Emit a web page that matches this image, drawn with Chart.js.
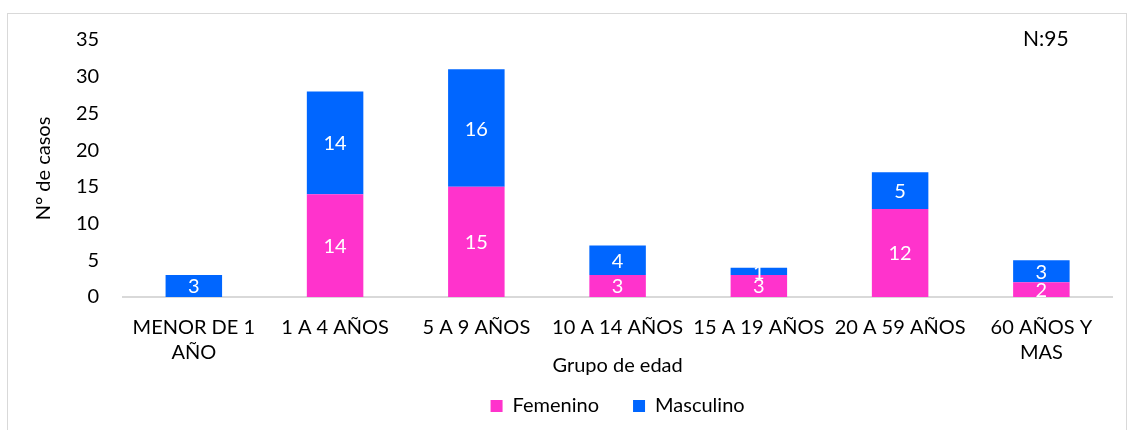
<!DOCTYPE html>
<html>
<head>
<meta charset="utf-8">
<script src="https://cdn.jsdelivr.net/npm/chart.js@4/dist/chart.umd.min.js"></script>
<style>
  html, body { margin: 0; padding: 0; background: #fff; }
  #wrap { position: relative; width: 1130px; height: 430px; }
  #frame { position: absolute; left: 7px; top: 13px; width: 1120px; height: 420px; border: 1px solid #d9d9d9; box-sizing: border-box; }
  canvas { position: absolute; left: 0; top: 0; }
</style>
</head>
<body>
<div id="wrap">
  <div id="frame"></div>
  <canvas id="chart" width="1130" height="430"></canvas>
</div>
<script>
const categories = [['MENOR DE 1', 'AÑO'], '1 A 4 AÑOS', '5 A 9 AÑOS', '10 A 14 AÑOS', '15 A 19 AÑOS', '20 A 59 AÑOS', ['60 AÑOS Y', 'MAS']];
const femenino = [0, 14, 15, 3, 3, 12, 2];
const masculino = [3, 14, 16, 4, 1, 5, 3];
const totalLabel = 'N:95';

const FONT = 'Lato, "Open Sans", sans-serif';

// value labels inside each bar segment
const barLabels = {
  id: 'barLabels',
  afterDatasetsDraw(chart) {
    const ctx = chart.ctx;
    ctx.save();
    ctx.fillStyle = '#ffffff';
    ctx.font = '20px ' + FONT;
    ctx.textAlign = 'center';
    ctx.textBaseline = 'middle';
    chart.data.datasets.forEach((ds, i) => {
      chart.getDatasetMeta(i).data.forEach((bar, j) => {
        const v = ds.data[j];
        if (!v) return;
        ctx.fillText(String(v), bar.x, (bar.y + bar.base) / 2 + 1);
      });
    });
    ctx.restore();
  }
};

const cornerNote = {
  id: 'cornerNote',
  afterDraw(chart) {
    const ctx = chart.ctx;
    ctx.save();
    ctx.fillStyle = '#000';
    ctx.font = '21px ' + FONT;
    ctx.textAlign = 'left';
    ctx.textBaseline = 'middle';
    ctx.fillText(totalLabel, 1023, 39);
    ctx.restore();
  }
};

new Chart(document.getElementById('chart'), {
  type: 'bar',
  data: {
    labels: categories,
    datasets: [
      { label: 'Femenino', data: femenino, backgroundColor: '#ff33cc', categoryPercentage: 1, barPercentage: 0.4 },
      { label: 'Masculino', data: masculino, backgroundColor: '#0066ff', categoryPercentage: 1, barPercentage: 0.4 }
    ]
  },
  options: {
    responsive: false,
    animation: false,
    layout: { padding: { top: 40, left: 28, right: 18, bottom: 4 } },
    plugins: {
      legend: {
        position: 'bottom',
        fullSize: false,
        labels: { boxWidth: 12, boxHeight: 12, padding: 34, color: '#000', font: { family: FONT, size: 20 } }
      },
      tooltip: { enabled: false }
    },
    scales: {
      x: {
        stacked: true,
        grid: { display: false },
        border: { color: '#d9d9d9', width: 2 },
        ticks: { color: '#000', font: { family: FONT, size: 20, lineHeight: 1.25 }, maxRotation: 0, autoSkip: false, padding: 10 },
        title: { display: true, text: 'Grupo de edad', color: '#000', font: { family: FONT, size: 20 }, padding: { top: -21, bottom: -16 } }
      },
      y: {
        stacked: true,
        min: 0,
        max: 35,
        grid: { display: false },
        border: { display: false },
        ticks: { stepSize: 5, color: '#000', font: { family: FONT, size: 20 }, padding: 16 },
        title: { display: true, text: 'N° de casos', color: '#000', font: { family: FONT, size: 20 } }
      }
    }
  },
  plugins: [barLabels, cornerNote]
});
</script>
</body>
</html>
